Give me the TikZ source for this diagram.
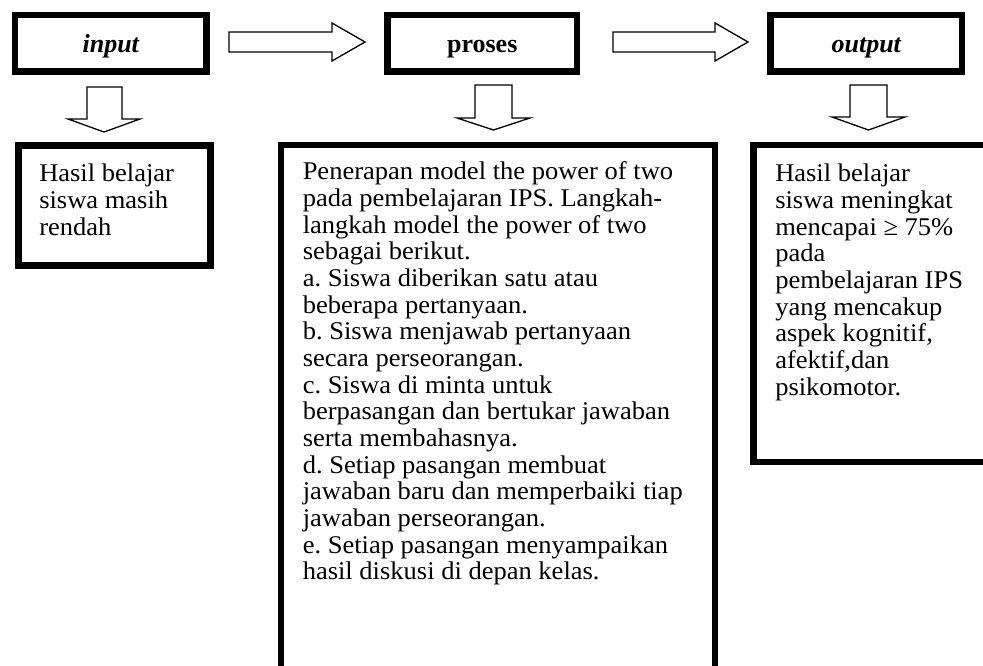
\documentclass[tikz,border=0pt]{standalone}
\usepackage{fontspec}
\setmainfont{Liberation Serif}
\newfontfamily\bodyfam{Liberation Serif}[FakeStretch=1.04]
\newcommand\lnx[1]{\mbox{#1}\par}
\newcommand\bodyfont{\bodyfam\fontsize{25.5pt}{26.67pt}\selectfont\frenchspacing}
\begin{document}
\begin{tikzpicture}[x=1pt,y=-1pt,
  topbox/.style={draw, line width=6.5pt, inner sep=0pt, text height=19.5pt, text depth=0pt, font=\fontsize{26pt}{28pt}\selectfont\bfseries},
  resbox/.style={draw, line width=6.5pt, inner sep=0pt, anchor=north west},
  blockarrow/.style={draw, line width=1.3pt, line join=miter, fill=white}]
\useasboundingbox (0,0) rectangle (983,666);
\clip (0,0) rectangle (983,666);
\fill[white] (0,0) rectangle (983,666);

% top row
\node[topbox, minimum width=191.5pt, minimum height=56.5pt] (in) at (110.75,43.25) {\itshape input};
\node[topbox, minimum width=189.5pt, minimum height=56.5pt] (pr) at (482.25,43.25) {proses};
\node[topbox, minimum width=191.5pt, minimum height=56.5pt] (out) at (866.25,43.25) {\itshape output};

% right block arrows
\draw[blockarrow] (229,32) -- (332,32) -- (332,23) -- (365,42) -- (332,61) -- (332,52) -- (229,52) -- cycle;
\draw[blockarrow] (613,32) -- (715,32) -- (715,23) -- (748,42) -- (715,61) -- (715,52) -- (613,52) -- cycle;

% down block arrows
\draw[blockarrow] (87,87) -- (122,87) -- (122,119) -- (140,119) -- (104,132) -- (68,119) -- (87,119) -- cycle;
\draw[blockarrow] (475,85) -- (512,85) -- (512,118) -- (530,118) -- (493.5,130) -- (457,118) -- (475,118) -- cycle;
\draw[blockarrow] (850,85) -- (887,85) -- (887,117) -- (905,117) -- (868.5,130) -- (832,117) -- (850,117) -- cycle;

% result boxes
\node[resbox] (inres) at (15,142.5) {\parbox[b][119.5pt][t]{192pt}{\bodyfont\leftskip=21pt
\lnx{\rule{0pt}{36pt}Hasil belajar}
\lnx{siswa masih}
\lnx{rendah}}};

\node[resbox] (prres) at (277.5,142) {\parbox[b][580pt][t]{434pt}{\bodyfont\leftskip=22pt
\lnx{\rule{0pt}{34.5pt}Penerapan model the power of two}
\lnx{pada pembelajaran IPS. Langkah-}
\lnx{langkah model the power of two}
\lnx{sebagai berikut.}
\lnx{a. Siswa diberikan satu atau}
\lnx{beberapa pertanyaan.}
\lnx{b. Siswa menjawab pertanyaan}
\lnx{secara perseorangan.}
\lnx{c. Siswa di minta untuk}
\lnx{berpasangan dan bertukar jawaban}
\lnx{serta membahasnya.}
\lnx{d. Setiap pasangan membuat}
\lnx{jawaban baru dan memperbaiki tiap}
\lnx{jawaban perseorangan.}
\lnx{e. Setiap pasangan menyampaikan}
\lnx{hasil diskusi di depan kelas.}}};

\node[resbox] (outres) at (750,142) {\parbox[b][316.5pt][t]{260pt}{\bodyfont\leftskip=22pt
\lnx{\rule{0pt}{36.5pt}Hasil belajar}
\lnx{siswa meningkat}
\lnx{mencapai ≥ 75\%}
\lnx{pada}
\lnx{pembelajaran IPS}
\lnx{yang mencakup}
\lnx{aspek kognitif,}
\lnx{afektif,dan}
\lnx{psikomotor.}}};
\end{tikzpicture}
\end{document}
